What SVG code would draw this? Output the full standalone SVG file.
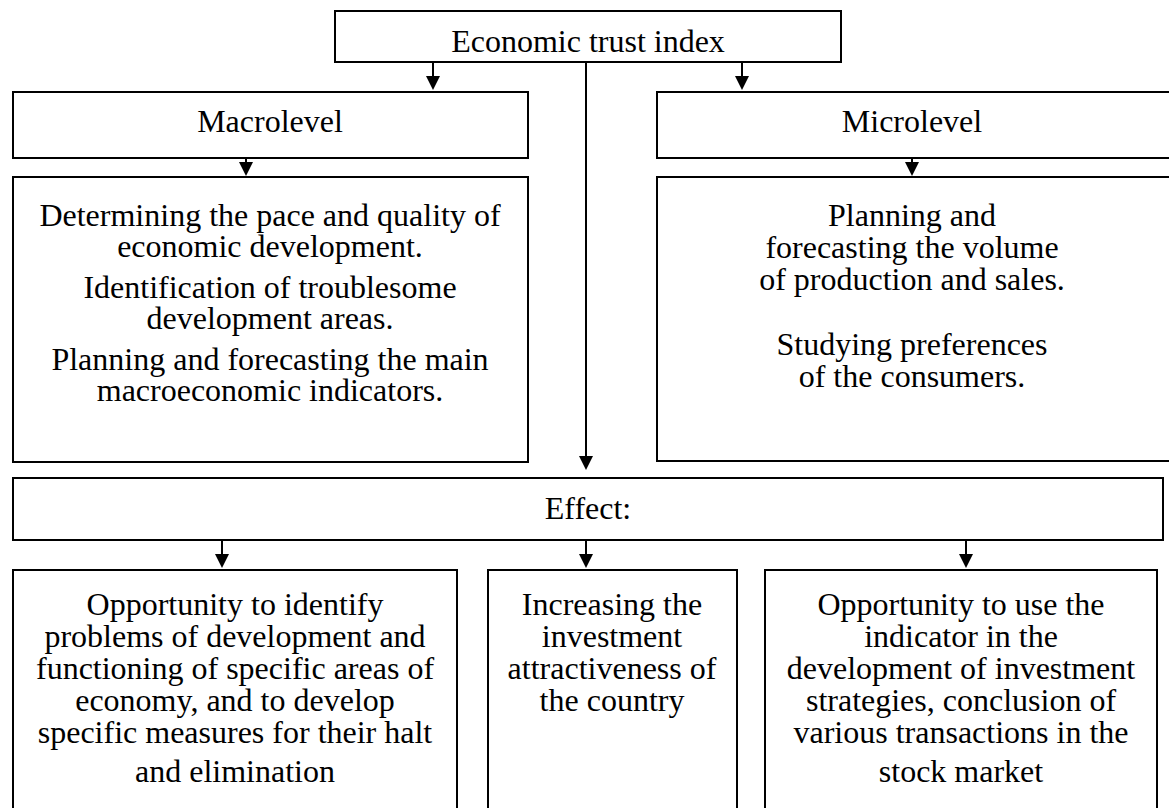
<svg xmlns="http://www.w3.org/2000/svg" width="1169" height="808" viewBox="0 0 1169 808">
<style>
.box{fill:#fff;stroke:#000;stroke-width:2}
.t{font-family:"Liberation Serif","Times New Roman",serif;font-size:32px;fill:#000;text-anchor:middle}
.c{stroke:#000;stroke-width:2;fill:none}
</style>
<defs>
<marker id="ah" viewBox="0 0 14 14" refX="4" refY="7" markerWidth="14" markerHeight="14" markerUnits="userSpaceOnUse" orient="auto">
<path d="M0,0 L14,7 L0,14 Z" fill="#000"/>
</marker>
</defs>
<rect width="1169" height="808" fill="#fff"/>
<g id="connectors">
<line class="c" x1="433" y1="62" x2="433" y2="80" marker-end="url(#ah)"/>
<line class="c" x1="742" y1="62" x2="742" y2="80" marker-end="url(#ah)"/>
<line class="c" x1="586" y1="62" x2="586" y2="460" marker-end="url(#ah)"/>
<line class="c" x1="246" y1="158" x2="246" y2="166" marker-end="url(#ah)"/>
<line class="c" x1="912" y1="158" x2="912" y2="166" marker-end="url(#ah)"/>
<line class="c" x1="222" y1="540" x2="222" y2="558" marker-end="url(#ah)"/>
<line class="c" x1="586" y1="540" x2="586" y2="558" marker-end="url(#ah)"/>
<line class="c" x1="966" y1="540" x2="966" y2="558" marker-end="url(#ah)"/>
</g>
<g id="index">
<rect class="box" x="335" y="11" width="506" height="51"/>
<text class="t" x="588" y="52">Economic trust index</text>
</g>
<g id="macrolevel">
<rect class="box" x="13" y="92" width="515" height="66"/>
<text class="t" x="270" y="132">Macrolevel</text>
</g>
<g id="microlevel">
<rect class="box" x="657" y="92" width="515" height="66"/>
<text class="t" x="912" y="132">Microlevel</text>
</g>
<g id="macro-detail">
<rect class="box" x="13" y="177" width="515" height="285"/>
<text class="t" x="270" y="226">Determining the pace and quality of</text>
<text class="t" x="270" y="257">economic development.</text>
<text class="t" x="270" y="298">Identification of troublesome</text>
<text class="t" x="270" y="329">development areas.</text>
<text class="t" x="270" y="370">Planning and forecasting the main</text>
<text class="t" x="270" y="401">macroeconomic indicators.</text>
</g>
<g id="micro-detail">
<rect class="box" x="657" y="177" width="515" height="284"/>
<text class="t" x="912" y="226">Planning and</text>
<text class="t" x="912" y="258">forecasting the volume</text>
<text class="t" x="912" y="290">of production and sales.</text>
<text class="t" x="912" y="355">Studying preferences</text>
<text class="t" x="912" y="387">of the consumers.</text>
</g>
<g id="effect">
<rect class="box" x="13" y="478" width="1150" height="62"/>
<text class="t" x="588" y="519">Effect:</text>
</g>
<g id="effect-1">
<rect class="box" x="13" y="570" width="444" height="250"/>
<text class="t" x="235" y="615">Opportunity to identify</text>
<text class="t" x="235" y="647">problems of development and</text>
<text class="t" x="235" y="679">functioning of specific areas of</text>
<text class="t" x="235" y="711">economy, and to develop</text>
<text class="t" x="235" y="743">specific measures for their halt</text>
<text class="t" x="235" y="782">and elimination</text>
</g>
<g id="effect-2">
<rect class="box" x="488" y="570" width="249" height="250"/>
<text class="t" x="612" y="615">Increasing the</text>
<text class="t" x="612" y="647">investment</text>
<text class="t" x="612" y="679">attractiveness of</text>
<text class="t" x="612" y="711">the country</text>
</g>
<g id="effect-3">
<rect class="box" x="765" y="570" width="392" height="250"/>
<text class="t" x="961" y="615">Opportunity to use the</text>
<text class="t" x="961" y="647">indicator in the</text>
<text class="t" x="961" y="679">development of investment</text>
<text class="t" x="961" y="711">strategies, conclusion of</text>
<text class="t" x="961" y="743">various transactions in the</text>
<text class="t" x="961" y="782">stock market</text>
</g>
</svg>
